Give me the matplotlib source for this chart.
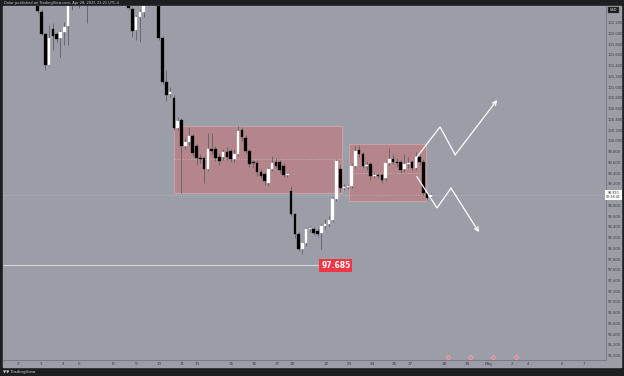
import matplotlib
matplotlib.use("Agg")
import matplotlib.pyplot as plt
import matplotlib.transforms as mtransforms
from matplotlib.patches import Rectangle
import numpy as np

# 4H candles, index = bar number from the left edge of the chart
candle_open = [104.05, 104.10, 104.20, 104.12, 104.05, 103.95, 104.00, 103.50, 103.25, 102.95,
               102.40, 101.99, 101.41, 102.08, 101.99, 101.91, 102.03, 102.14, 102.60, 102.80,
               102.90, 102.75, 103.00, 102.85, 103.10, 103.25, 103.15, 103.05, 103.40, 103.30,
               103.20, 103.00, 102.90, 102.80, 102.46, 102.06, 102.31, 102.40, 102.70, 102.95,
               103.00, 102.90, 101.91, 101.09, 100.88, 100.79, 100.23, 100.38, 99.91, 99.97,
               100.09, 99.90, 99.68, 99.68, 99.47, 99.85, 99.85, 99.70, 99.70, 99.80,
               99.81, 99.66, 99.76, 100.21, 100.06, 99.81, 99.59, 99.59, 99.42, 99.38,
               99.21, 99.48, 99.60, 99.60, 99.53, 99.36, 99.06, 98.63, 98.26, 97.99,
               98.09, 98.35, 98.35, 98.33, 98.28, 98.41, 98.46, 98.52, 98.91, 99.48,
               99.12, 99.14, 99.16, 99.53, 99.83, 99.76, 99.53, 99.56, 99.34, 99.36,
               99.36, 99.30, 99.59, 99.66, 99.61, 99.60, 99.47, 99.57, 99.60, 99.50,
               99.70, 99.60, 99.03, 98.96]
candle_high = [104.15, 104.25, 104.28, 104.20, 104.10, 104.05, 104.10, 103.60, 103.35, 103.00,
               102.45, 102.00, 102.16, 102.19, 102.02, 102.06, 102.21, 102.75, 102.95, 103.05,
               103.00, 103.10, 103.10, 103.20, 103.35, 103.40, 103.30, 103.50, 103.55, 103.45,
               103.35, 103.15, 103.05, 102.90, 102.50, 102.35, 102.45, 102.80, 103.10, 103.15,
               103.10, 103.00, 101.95, 101.31, 101.00, 100.85, 100.45, 100.42, 100.05, 100.25,
               100.12, 99.95, 99.75, 99.70, 100.15, 100.15, 99.90, 99.75, 99.85, 99.88,
               99.85, 99.85, 100.28, 100.25, 100.10, 99.85, 99.65, 99.65, 99.48, 99.42,
               99.52, 99.72, 99.68, 99.65, 99.58, 99.40, 99.16, 98.66, 98.30, 98.12,
               98.40, 98.42, 98.40, 98.38, 98.46, 98.55, 98.60, 98.95, 99.66, 99.55,
               99.20, 99.20, 99.58, 99.91, 99.92, 99.80, 99.62, 99.60, 99.42, 99.40,
               99.40, 99.62, 99.87, 99.75, 99.68, 99.65, 99.75, 99.70, 99.65, 99.80,
               99.75, 99.66, 99.05, 99.02]
candle_low = [103.95, 104.00, 104.05, 104.00, 103.90, 103.85, 103.40, 103.15, 102.85, 102.38,
              101.97, 101.31, 101.39, 101.69, 101.84, 101.56, 101.78, 101.78, 102.44, 102.65,
              102.48, 102.60, 102.19, 102.70, 103.00, 103.05, 102.95, 103.00, 103.20, 103.10,
              102.90, 102.80, 102.70, 102.45, 101.93, 101.88, 101.84, 102.30, 102.60, 102.75,
              102.70, 101.88, 101.05, 100.75, 100.82, 100.20, 100.20, 99.02, 99.85, 99.93,
              99.72, 99.55, 99.58, 99.21, 99.43, 99.75, 99.62, 99.55, 99.65, 99.64,
              99.60, 99.60, 99.72, 100.00, 99.78, 99.52, 99.50, 99.35, 99.30, 99.18,
              99.15, 99.44, 99.50, 99.40, 99.32, 99.33, 98.60, 98.20, 97.94, 97.90,
              98.05, 98.30, 98.24, 98.22, 97.99, 98.36, 98.42, 98.48, 98.88, 99.05,
              99.08, 99.10, 99.12, 99.50, 99.70, 99.50, 99.45, 99.28, 99.30, 99.30,
              99.22, 99.25, 99.55, 99.56, 99.52, 99.40, 99.42, 99.50, 99.45, 99.46,
              99.55, 99.00, 98.90, 98.92]
candle_close = [104.10, 104.20, 104.12, 104.05, 103.95, 104.00, 103.50, 103.25, 102.95, 102.42,
                101.99, 101.41, 101.91, 101.95, 101.89, 102.03, 102.12, 102.60, 102.80, 102.90,
                102.75, 103.00, 102.85, 103.10, 103.25, 103.15, 103.05, 103.40, 103.30, 103.20,
                103.00, 102.90, 102.80, 102.48, 102.04, 102.31, 102.40, 102.70, 102.95, 103.00,
                102.90, 101.91, 101.09, 100.86, 100.90, 100.23, 100.36, 99.91, 99.97, 100.09,
                99.78, 99.68, 99.66, 99.47, 99.85, 99.82, 99.68, 99.63, 99.79, 99.70,
                99.66, 99.76, 100.19, 100.08, 99.81, 99.57, 99.58, 99.42, 99.34, 99.25,
                99.48, 99.59, 99.53, 99.45, 99.36, 99.38, 98.63, 98.26, 97.99, 98.09,
                98.35, 98.36, 98.28, 98.26, 98.41, 98.46, 98.52, 98.91, 99.63, 99.12,
                99.14, 99.16, 99.53, 99.81, 99.76, 99.53, 99.55, 99.34, 99.36, 99.35,
                99.27, 99.59, 99.66, 99.61, 99.59, 99.46, 99.56, 99.59, 99.50, 99.69,
                99.60, 99.03, 98.94, 98.99]

# zones: (first bar, last bar, low, high)
zones = [(45.0, 89.5, 99.03, 100.28), (91.4, 111.7, 98.88, 99.94)]

support_level = 97.685
support_end = 83.7

# projected paths (bar, price)
path_up = [(109.3, 99.70), (115.4, 100.26), (119.4, 99.74), (130.5, 100.76)]
path_down = [(109.3, 99.33), (114.6, 98.75), (118.3, 99.12), (125.7, 98.30)]

date_ticks = [3.8, 9.9, 15.7, 19.9, 28.9, 35.0, 41.1, 47.2, 51.2, 60.1, 66.2, 72.3, 76.3,
              85.3, 91.3, 97.4, 103.3, 107.5, 116.5, 122.6, 128.4, 134.5, 138.7, 147.7, 153.5]
date_labels = ["2", "3", "4", "6", "8", "9", "10", "11", "13", "15", "16", "17", "20",
               "22", "23", "24", "25", "27", "28", "29", "May", "2", "4", "6", "7"]
event_bars = [117.5, 123.3, 129.4, 135.5]

price_ticks = np.round(np.arange(96.0, 102.21, 0.2), 3)

BG = "#9b9ea6"
DARK = "#1d1e21"
W, H = 624, 376

fig = plt.figure(figsize=(W / 100, H / 100), dpi=100, facecolor=DARK)
fig.patches.append(Rectangle((3 / W, 9 / H), 618 / W, 361 / H,
                             transform=fig.transFigure, color=BG, zorder=-5))

ax = fig.add_axes([3 / W, 16 / H, 603 / W, 354 / H])
ax.set_zorder(2)
ax.set_facecolor(BG)
ax.set_xlim(-0.2, 159.3)
ax.set_ylim(95.92, 102.51)

for s in ["top", "left"]:
    ax.spines[s].set_visible(False)
ax.spines["right"].set_color("#7a7d85")
ax.spines["bottom"].set_color("#7a7d85")
ax.spines["right"].set_linewidth(0.8)
ax.spines["bottom"].set_linewidth(0.8)

# zones
for x0, x1, lo, hi in zones:
    ax.add_patch(Rectangle((x0, lo), x1 - x0, hi - lo, facecolor="#b4868c",
                           edgecolor="#c9a2a7", linewidth=0.8, zorder=1))
    ax.hlines((lo + hi) / 2, x0, x1, colors="#cfb3b7", linestyles=(0, (2, 2)),
              linewidth=0.5, zorder=1.5)

# candles
o = np.array(candle_open)
h = np.array(candle_high)
l = np.array(candle_low)
c = np.array(candle_close)
idx = np.arange(len(o))
up = c >= o
ax.vlines(idx, l, h, colors="#5e6168", linewidth=0.6, zorder=2)
bottoms = np.minimum(o, c)
heights = np.maximum(np.abs(c - o), 0.02)
ax.bar(idx[up], heights[up], bottom=bottoms[up], width=0.68, color="#ffffff",
       edgecolor="#ffffff", linewidth=0.2, zorder=3)
ax.bar(idx[~up], heights[~up], bottom=bottoms[~up], width=0.68, color="#000000",
       edgecolor="#000000", linewidth=0.2, zorder=3)

# last price line
ax.axhline(c[-1], color="#b9bcc3", linestyle=(0, (1, 2)), linewidth=0.6, zorder=1.2)

# support line + label
ax.hlines(support_level, ax.get_xlim()[0], support_end, colors="#d4d6db",
          linewidth=0.8, zorder=2)
ax.text(support_end + 0.3, support_level, f"{support_level:.3f}", fontsize=5.5,
        fontweight="bold", color="white", ha="left", va="center", zorder=5,
        bbox=dict(boxstyle="square,pad=0.25", fc="#f23645", ec="none"))

# projection paths
for path in (path_up, path_down):
    xs = [p[0] for p in path]
    ys = [p[1] for p in path]
    ax.plot(xs[:-1], ys[:-1], color="white", linewidth=0.9, zorder=4,
            solid_joinstyle="miter")
    ax.annotate("", xy=(xs[-1], ys[-1]), xytext=(xs[-2], ys[-2]),
                arrowprops=dict(arrowstyle="->", color="white", lw=0.9,
                                shrinkA=0, shrinkB=0, mutation_scale=7), zorder=4)

# event flags on the time axis
trans = mtransforms.blended_transform_factory(ax.transData, ax.transAxes)
ax.scatter(event_bars, [0.008] * len(event_bars), s=7, color="#e8828f",
           edgecolor="#f2b8c0", linewidth=0.4, transform=trans, zorder=6, clip_on=False)

# axes ticks
ax.yaxis.tick_right()
ax.set_yticks(price_ticks)
ax.set_yticklabels([f"{p:.3f}" if abs(p - 99.0) > 1e-6 else "" for p in price_ticks])
ax.tick_params(axis="y", length=0, pad=1.2, labelsize=2.7, labelcolor="#3a3c42")
ax.set_xticks(date_ticks)
ax.set_xticklabels(date_labels)
ax.tick_params(axis="x", length=0, pad=1.5, labelsize=3, labelcolor="#3a3c42")

# last price tag on the price scale
tag_trans = mtransforms.blended_transform_factory(fig.transFigure, ax.transData)
ax.text(613.5 / W, c[-1], f"{c[-1]:.3f}\n02:38:41", transform=tag_trans, fontsize=2.3,
        color="#222222", ha="center", va="center", linespacing=1.1, zorder=7,
        bbox=dict(boxstyle="square,pad=0.3", fc="white", ec="none"), clip_on=False)

# header / footer
fig.text(613.5 / W, 1 - 10 / H, "USD", fontsize=2.5, color="white", ha="center",
         va="center", bbox=dict(boxstyle="square,pad=0.4", fc="#1a1a1a", ec="#555555", lw=0.3))
fig.text(4 / W, 1 - 3 / H, "Dolar published on TradingView.com, Apr 28, 2025 21:21 UTC-4",
         fontsize=2.6, color="#c8c8c8", ha="left", va="center")
fig.text(3 / W, 4.5 / H, "\u25BC\u25BC TradingView", fontsize=3, color="#d0d0d0",
         ha="left", va="center")

fig.savefig("out.png", dpi=100, facecolor=DARK)
